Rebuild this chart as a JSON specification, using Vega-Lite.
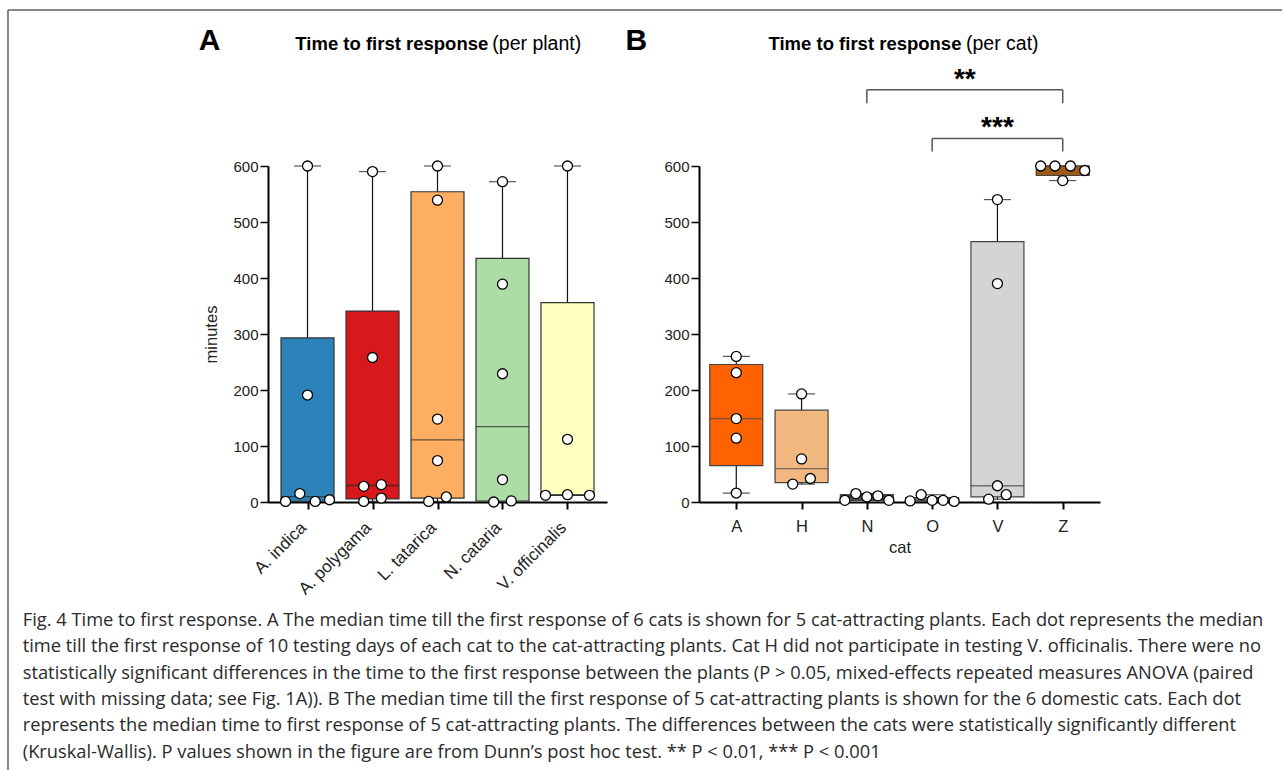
{
  "$schema": "https://vega.github.io/schema/vega-lite/v6.json",
  "background": "white",
  "padding": {"left": 7, "top": 9, "right": 0, "bottom": 0},
  "datasets": {
    "boxesA": [
      {"plant": "A. indica", "lo": 1, "q1": 1, "med": 9.5, "q3": 293, "hi": 600},
      {"plant": "A. polygama", "lo": 1, "q1": 5.5, "med": 29.5, "q3": 341, "hi": 590},
      {"plant": "L. tatarica", "lo": 1, "q1": 7, "med": 111, "q3": 554, "hi": 600},
      {"plant": "N. cataria", "lo": 0, "q1": 1.5, "med": 134.5, "q3": 435, "hi": 572},
      {"plant": "V. officinalis", "lo": 12, "q1": 12, "med": 13, "q3": 356, "hi": 600}
    ],
    "pointsA": [
      {"plant": "A. indica", "value": 1, "slot": -2},
      {"plant": "A. indica", "value": 15, "slot": -0.7},
      {"plant": "A. indica", "value": 1, "slot": 0.7},
      {"plant": "A. indica", "value": 4, "slot": 2},
      {"plant": "A. indica", "value": 191, "slot": 0},
      {"plant": "A. indica", "value": 600, "slot": 0},
      {"plant": "A. polygama", "value": 1, "slot": -0.8},
      {"plant": "A. polygama", "value": 28, "slot": -0.8},
      {"plant": "A. polygama", "value": 31, "slot": 0.8},
      {"plant": "A. polygama", "value": 7, "slot": 0.8},
      {"plant": "A. polygama", "value": 258, "slot": 0},
      {"plant": "A. polygama", "value": 590, "slot": 0},
      {"plant": "L. tatarica", "value": 1, "slot": -0.8},
      {"plant": "L. tatarica", "value": 9, "slot": 0.8},
      {"plant": "L. tatarica", "value": 74, "slot": 0},
      {"plant": "L. tatarica", "value": 148, "slot": 0},
      {"plant": "L. tatarica", "value": 539, "slot": 0},
      {"plant": "L. tatarica", "value": 600, "slot": 0},
      {"plant": "N. cataria", "value": 0, "slot": -0.8},
      {"plant": "N. cataria", "value": 2, "slot": 0.8},
      {"plant": "N. cataria", "value": 40, "slot": 0},
      {"plant": "N. cataria", "value": 229, "slot": 0},
      {"plant": "N. cataria", "value": 389, "slot": 0},
      {"plant": "N. cataria", "value": 572, "slot": 0},
      {"plant": "V. officinalis", "value": 12, "slot": -2},
      {"plant": "V. officinalis", "value": 13, "slot": 0},
      {"plant": "V. officinalis", "value": 12, "slot": 2},
      {"plant": "V. officinalis", "value": 112, "slot": 0},
      {"plant": "V. officinalis", "value": 600, "slot": 0}
    ],
    "boxesB": [
      {"cat": "A", "lo": 16, "q1": 65, "med": 149, "q3": 245.5, "hi": 260},
      {"cat": "H", "lo": 32, "q1": 34.5, "med": 59.5, "q3": 164, "hi": 193},
      {"cat": "N", "lo": 3, "q1": 3, "med": 9, "q3": 13, "hi": 15},
      {"cat": "O", "lo": 1, "q1": 1.5, "med": 3, "q3": 8, "hi": 13},
      {"cat": "V", "lo": 5, "q1": 9, "med": 29, "q3": 465, "hi": 540},
      {"cat": "Z", "lo": 574, "q1": 583, "med": 600, "q3": 600, "hi": 600}
    ],
    "pointsB": [
      {"cat": "A", "value": 260, "slot": 0},
      {"cat": "A", "value": 231, "slot": 0},
      {"cat": "A", "value": 149, "slot": 0},
      {"cat": "A", "value": 114, "slot": 0},
      {"cat": "A", "value": 16, "slot": 0},
      {"cat": "H", "value": 193, "slot": 0},
      {"cat": "H", "value": 77, "slot": 0},
      {"cat": "H", "value": 42, "slot": 0.8},
      {"cat": "H", "value": 32, "slot": -0.8},
      {"cat": "N", "value": 3, "slot": -2},
      {"cat": "N", "value": 15, "slot": -1},
      {"cat": "N", "value": 9, "slot": 0},
      {"cat": "N", "value": 11, "slot": 1},
      {"cat": "N", "value": 3, "slot": 2},
      {"cat": "O", "value": 2, "slot": -2},
      {"cat": "O", "value": 13, "slot": -1},
      {"cat": "O", "value": 3, "slot": 0},
      {"cat": "O", "value": 3, "slot": 1},
      {"cat": "O", "value": 1, "slot": 2},
      {"cat": "V", "value": 540, "slot": 0},
      {"cat": "V", "value": 390, "slot": 0},
      {"cat": "V", "value": 29, "slot": 0},
      {"cat": "V", "value": 13, "slot": 0.8},
      {"cat": "V", "value": 5, "slot": -0.8},
      {"cat": "Z", "value": 600, "slot": -2},
      {"cat": "Z", "value": 600, "slot": -0.7},
      {"cat": "Z", "value": 600, "slot": 0.7},
      {"cat": "Z", "value": 592, "slot": 2},
      {"cat": "Z", "value": 574, "slot": 0}
    ]
  },
  "title": {
    "text": [
      "Fig. 4  Time to first response. A The median time till the first response of 6 cats is shown for 5 cat-attracting plants. Each dot represents the median",
      "time till the first response of 10 testing days of each cat to the cat-attracting plants. Cat H did not participate in testing V. officinalis. There were no",
      "statistically significant differences in the time to the first response between the plants (P > 0.05, mixed-effects repeated measures ANOVA (paired",
      "test with missing data; see Fig. 1A)). B The median time till the first response of 5 cat-attracting plants is shown for the 6 domestic cats. Each dot",
      "represents the median time to first response of 5 cat-attracting plants. The differences between the cats were statistically significantly different",
      "(Kruskal-Wallis). P values shown in the figure are from Dunn’s post hoc test. ** P < 0.01, *** P < 0.001"
    ],
    "orient": "bottom",
    "anchor": "start",
    "frame": "bounds",
    "dx": 15.5,
    "offset": -159,
    "font": "Open Sans",
    "fontSize": 18.3,
    "fontWeight": "normal",
    "color": "#2a2a2a",
    "lineHeight": 26.4
  },
  "spacing": -2,
  "resolve": {"scale": {"x": "independent", "y": "independent", "color": "independent", "xOffset": "independent"}},
  "hconcat": [
    {
      "width": 339,
      "height": 336,
      "resolve": {"scale": {"x": "independent"}},
      "layer": [
        {
          "layer": [
            {
              "data": {"name": "boxesA"},
              "mark": {"type": "rule", "color": "#111111", "strokeWidth": 1.2},
              "encoding": {
                "x": {"field": "plant", "type": "nominal", "scale": {"type": "point", "padding": 0.608, "domain": ["A. indica", "A. polygama", "L. tatarica", "N. cataria", "V. officinalis"]}, "axis": {"title": null, "labelAngle": -45, "labelFontSize": 17, "labelPadding": 10, "labelOffset": -10, "tickSize": 7, "tickWidth": 2}},
                "y": {"field": "lo", "type": "quantitative", "scale": {"domain": [0, 600], "nice": false}, "axis": {"title": "minutes", "values": [0, 100, 200, 300, 400, 500, 600], "tickSize": 8, "tickWidth": 1.5, "labelPadding": 2, "titlePadding": 13}},
                "y2": {"field": "hi"}
              }
            },
            {
              "data": {"name": "boxesA"},
              "mark": {"type": "tick", "color": "#111111", "thickness": 1.2, "size": 27},
              "encoding": {
                "x": {"field": "plant", "type": "nominal"},
                "y": {"field": "hi", "type": "quantitative"}
              }
            },
            {
              "data": {"name": "boxesA"},
              "mark": {"type": "tick", "color": "#111111", "thickness": 1.2, "size": 27},
              "encoding": {
                "x": {"field": "plant", "type": "nominal"},
                "y": {"field": "lo", "type": "quantitative"}
              }
            },
            {
              "data": {"name": "boxesA"},
              "mark": {"type": "bar", "size": 53, "stroke": "#333333", "strokeWidth": 1.2, "opacity": 1},
              "encoding": {
                "x": {"field": "plant", "type": "nominal"},
                "y": {"field": "q1", "type": "quantitative"},
                "y2": {"field": "q3"},
                "color": {"field": "plant", "type": "nominal", "legend": null, "scale": {"domain": ["A. indica", "A. polygama", "L. tatarica", "N. cataria", "V. officinalis"], "range": ["#2b83ba", "#d7191c", "#fdae61", "#abdda4", "#ffffbf"]}}
              }
            },
            {
              "data": {"name": "boxesA"},
              "mark": {"type": "tick", "color": "#222222", "thickness": 1.3, "size": 53},
              "encoding": {
                "x": {"field": "plant", "type": "nominal"},
                "y": {"field": "med", "type": "quantitative"}
              }
            },
            {
              "data": {"name": "pointsA"},
              "mark": {"type": "circle", "size": 100, "fill": "white", "stroke": "#000000", "strokeWidth": 1.3, "opacity": 1},
              "encoding": {
                "x": {"field": "plant", "type": "nominal"},
                "xOffset": {"field": "slot", "type": "quantitative", "scale": {"domain": [-2, 2], "range": [-22, 22]}},
                "y": {"field": "value", "type": "quantitative"}
              }
            },
            {
              "data": {"values": [{}]},
              "mark": {"type": "text", "text": "A", "font": "Liberation Sans", "fontSize": 30, "fontWeight": "bold", "align": "center", "baseline": "middle", "dx": -98, "color": "#000000"},
              "encoding": {"x": {"datum": "A. indica"}, "y": {"datum": 824}}
            },
            {
              "data": {"values": [{}]},
              "mark": {"type": "text", "text": "Time to first response", "font": "Liberation Sans", "fontSize": 18.5, "fontWeight": "bold", "align": "right", "baseline": "middle", "dx": 50.8, "color": "#000000"},
              "encoding": {"x": {"datum": "L. tatarica"}, "y": {"datum": 818}}
            },
            {
              "data": {"values": [{}]},
              "mark": {"type": "text", "text": "(per plant)", "font": "Liberation Sans", "fontSize": 19.5, "fontWeight": "normal", "align": "left", "baseline": "middle", "dx": 54.8, "color": "#000000"},
              "encoding": {"x": {"datum": "L. tatarica"}, "y": {"datum": 818}}
            }
          ]
        },
        {
          "layer": [
            {
              "data": {"values": [{}]},
              "mark": {"type": "rule", "color": "#606060", "strokeWidth": 1.5},
              "encoding": {
                "x": {"datum": -0.767, "type": "quantitative", "scale": {"domain": [0, 1], "nice": false, "zero": false}, "axis": null},
                "y": {"datum": 878.6, "type": "quantitative", "scale": {"domain": [0, 600], "nice": false}},
                "y2": {"datum": -478.6}
              }
            },
            {
              "data": {"values": [{}]},
              "mark": {"type": "rule", "color": "#606060", "strokeWidth": 1.5},
              "encoding": {
                "x": {"datum": -0.767, "type": "quantitative"},
                "x2": {"datum": 1.0442},
                "y": {"datum": 878.6, "type": "quantitative"}
              }
            }
          ]
        }
      ]
    },
    {
      "width": 401,
      "height": 336,
      "resolve": {"scale": {"x": "independent"}},
      "layer": [
        {
          "layer": [
            {
              "data": {"name": "boxesB"},
              "mark": {"type": "rule", "color": "#111111", "strokeWidth": 1.2},
              "encoding": {
                "x": {"field": "cat", "type": "nominal", "scale": {"type": "point", "padding": 0.571, "domain": ["A", "H", "N", "O", "V", "Z"]}, "axis": {"title": "cat", "labelAngle": 0, "labelFontSize": 16.5, "labelPadding": 9, "titlePadding": 5, "tickSize": 7, "tickWidth": 2}},
                "y": {"field": "lo", "type": "quantitative", "scale": {"domain": [0, 600], "nice": false}, "axis": {"title": null, "values": [0, 100, 200, 300, 400, 500, 600], "tickSize": 8, "tickWidth": 1.5, "labelPadding": 2}},
                "y2": {"field": "hi"}
              }
            },
            {
              "data": {"name": "boxesB"},
              "mark": {"type": "tick", "color": "#111111", "thickness": 1.2, "size": 27},
              "encoding": {
                "x": {"field": "cat", "type": "nominal"},
                "y": {"field": "hi", "type": "quantitative"}
              }
            },
            {
              "data": {"name": "boxesB"},
              "mark": {"type": "tick", "color": "#111111", "thickness": 1.2, "size": 27},
              "encoding": {
                "x": {"field": "cat", "type": "nominal"},
                "y": {"field": "lo", "type": "quantitative"}
              }
            },
            {
              "data": {"name": "boxesB"},
              "mark": {"type": "bar", "size": 53, "stroke": "#444444", "strokeWidth": 1.2, "opacity": 1},
              "encoding": {
                "x": {"field": "cat", "type": "nominal"},
                "y": {"field": "q1", "type": "quantitative"},
                "y2": {"field": "q3"},
                "color": {"field": "cat", "type": "nominal", "legend": null, "scale": {"domain": ["A", "H", "N", "O", "V", "Z"], "range": ["#ff6200", "#f0b77e", "#505050", "#8a8a8a", "#d4d4d4", "#9c5c18"]}}
              }
            },
            {
              "data": {"name": "boxesB"},
              "mark": {"type": "tick", "color": "#444444", "thickness": 1.3, "size": 53},
              "encoding": {
                "x": {"field": "cat", "type": "nominal"},
                "y": {"field": "med", "type": "quantitative"}
              }
            },
            {
              "data": {"name": "pointsB"},
              "mark": {"type": "circle", "size": 100, "fill": "white", "stroke": "#000000", "strokeWidth": 1.3, "opacity": 1},
              "encoding": {
                "x": {"field": "cat", "type": "nominal"},
                "xOffset": {"field": "slot", "type": "quantitative", "scale": {"domain": [-2, 2], "range": [-22, 22]}},
                "y": {"field": "value", "type": "quantitative"}
              }
            },
            {
              "data": {"values": [{}]},
              "mark": {"type": "rule", "color": "#555555", "strokeWidth": 1.5},
              "encoding": {"x": {"datum": "N"}, "x2": {"datum": "Z"}, "y": {"datum": 736}}
            },
            {
              "data": {"values": [{}]},
              "mark": {"type": "rule", "color": "#555555", "strokeWidth": 1.5},
              "encoding": {"x": {"datum": "N"}, "y": {"datum": 712}, "y2": {"datum": 736}}
            },
            {
              "data": {"values": [{}]},
              "mark": {"type": "rule", "color": "#555555", "strokeWidth": 1.5},
              "encoding": {"x": {"datum": "Z"}, "y": {"datum": 712}, "y2": {"datum": 736}}
            },
            {
              "data": {"values": [{}]},
              "mark": {"type": "rule", "color": "#555555", "strokeWidth": 1.5},
              "encoding": {"x": {"datum": "O"}, "x2": {"datum": "Z"}, "y": {"datum": 649}}
            },
            {
              "data": {"values": [{}]},
              "mark": {"type": "rule", "color": "#555555", "strokeWidth": 1.5},
              "encoding": {"x": {"datum": "O"}, "y": {"datum": 626}, "y2": {"datum": 649}}
            },
            {
              "data": {"values": [{}]},
              "mark": {"type": "rule", "color": "#555555", "strokeWidth": 1.5},
              "encoding": {"x": {"datum": "Z"}, "y": {"datum": 626}, "y2": {"datum": 649}}
            },
            {
              "data": {"values": [{}]},
              "mark": {"type": "text", "text": "**", "font": "Liberation Sans", "fontSize": 28, "fontWeight": "bold", "align": "center", "baseline": "alphabetic", "dx": 32.7, "color": "#000000"},
              "encoding": {"x": {"datum": "O"}, "y": {"datum": 740}}
            },
            {
              "data": {"values": [{}]},
              "mark": {"type": "text", "text": "***", "font": "Liberation Sans", "fontSize": 28, "fontWeight": "bold", "align": "center", "baseline": "alphabetic", "color": "#000000"},
              "encoding": {"x": {"datum": "V"}, "y": {"datum": 653}}
            },
            {
              "data": {"values": [{}]},
              "mark": {"type": "text", "text": "B", "font": "Liberation Sans", "fontSize": 30, "fontWeight": "bold", "align": "center", "baseline": "middle", "dx": -100, "color": "#000000"},
              "encoding": {"x": {"datum": "A"}, "y": {"datum": 824}}
            },
            {
              "data": {"values": [{}]},
              "mark": {"type": "text", "text": "Time to first response", "font": "Liberation Sans", "fontSize": 18.5, "fontWeight": "bold", "align": "right", "baseline": "middle", "dx": 29.3, "color": "#000000"},
              "encoding": {"x": {"datum": "O"}, "y": {"datum": 818}}
            },
            {
              "data": {"values": [{}]},
              "mark": {"type": "text", "text": "(per cat)", "font": "Liberation Sans", "fontSize": 19.5, "fontWeight": "normal", "align": "left", "baseline": "middle", "dx": 33.8, "color": "#000000"},
              "encoding": {"x": {"datum": "O"}, "y": {"datum": 818}}
            }
          ]
        },
        {
          "layer": [
            {
              "data": {"values": [{}]},
              "mark": {"type": "rule", "color": "#606060", "strokeWidth": 1.5},
              "encoding": {
                "x": {"datum": -0.192, "type": "quantitative", "scale": {"domain": [0, 1], "nice": false, "zero": false}, "axis": null},
                "x2": {"datum": 1.4539},
                "y": {"datum": 878.6, "type": "quantitative", "scale": {"domain": [0, 600], "nice": false}}
              }
            }
          ]
        }
      ]
    }
  ],
  "config": {
    "view": {"stroke": null},
    "font": "Liberation Sans",
    "axis": {
      "domainColor": "#000000",
      "domainWidth": 2,
      "tickColor": "#000000",
      "grid": false,
      "labelFont": "Liberation Sans",
      "labelFontSize": 15,
      "labelColor": "#222222",
      "titleFont": "Liberation Sans",
      "titleFontSize": 16.5,
      "titleFontWeight": "normal",
      "titleColor": "#222222"
    }
  }
}
